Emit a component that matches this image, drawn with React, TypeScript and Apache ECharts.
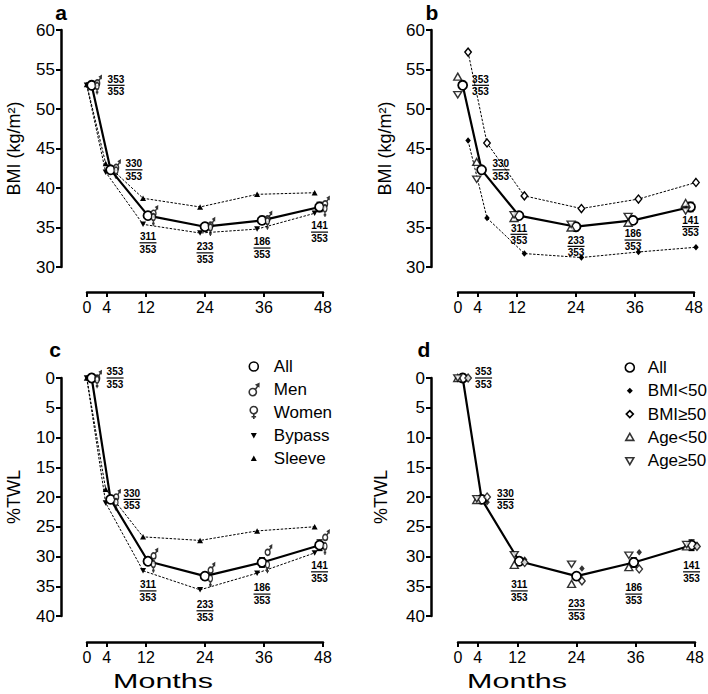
import React, { useEffect, useRef } from 'react';
import * as echarts from 'echarts';

// ---------- data ----------
const months = [0, 4, 12, 24, 36, 48];
// plotted (dodged) month position of the "All" points
const plotX = [0.95, 4.8, 12.4, 24.0, 35.6, 47.3];
const nFollowed = [353, 330, 311, 233, 186, 141];
const nTotal = 353;

// Panel a / b : BMI (kg/m2)
const bmiAll = [53.0, 42.3, 36.5, 35.1, 35.9, 37.6];
const bmiAllSe = [0.3, 0.3, 0.35, 0.4, 0.5, 0.6];
const bmiMen = [53.3, 42.6, 36.8, 35.3, 36.1, 38.0];
const bmiWomen = [52.9, 42.2, 36.3, 35.0, 35.8, 37.4];
const bmiBypass = [53.0, 42.0, 35.4, 34.3, 34.8, 36.8];
const bmiSleeve = [53.1, 43.1, 38.7, 37.6, 39.2, 39.4];
const bmiBmiLow = [46.0, 36.2, 31.7, 31.2, 31.9, 32.5];
const bmiBmiHigh = [57.2, 45.7, 39.0, 37.4, 38.6, 40.7];
const bmiAgeLow = [54.1, 43.3, 36.2, 35.0, 35.6, 38.1];
const bmiAgeHigh = [51.8, 41.1, 36.6, 35.4, 36.4, 37.1];

// Panel c / d : %TWL
const twlAll = [0, 20.4, 30.8, 33.3, 31.0, 28.1];
const twlAllSe = [0.1, 0.3, 0.5, 0.6, 0.8, 0.9];
const twlMen = [0, 20.0, 29.9, 32.3, 29.3, 26.8];
const twlWomen = [0.3, 20.9, 31.3, 33.7, 31.4, 28.3];
const twlBypass = [0, 21.0, 32.4, 35.6, 32.8, 29.4];
const twlSleeve = [0, 18.7, 26.7, 27.3, 25.7, 25.0];
const twlBmiLow = [0, 20.9, 30.5, 32.0, 29.3, 28.1];
const twlBmiHigh = [0, 20.0, 31.0, 34.1, 32.1, 28.3];
const twlAgeLow = [0, 20.5, 31.4, 34.6, 31.8, 28.3];
const twlAgeHigh = [0, 20.3, 29.7, 31.3, 29.8, 28.0];

// ---------- styles ----------
const FONT = "'Liberation Sans', Arial, Helvetica, sans-serif";
const DX_LEFT = -1.0;
const DX_RIGHT = 1.1;

const MALE = 'M8.6,9.6A3.6,3.6,0,1,1,1.4,9.6A3.6,3.6,0,1,1,8.6,9.6Z M7.6,7L10,3.4 M11,1.2L10.9,3.75L8.7,2.33Z';
const FEMALE = 'M9.6,4.6A3.6,3.6,0,1,1,2.4,4.6A3.6,3.6,0,1,1,9.6,4.6Z M6,8.2L6,13.6 M3.7,11.2L8.3,11.2';
const DOWN_TRI = 'path://M0,0L10,0L5,9Z';
const PAD = 'path://M0,0M12,14';

const openStyle = { color: '#fff', borderColor: '#000', borderWidth: 1.4 };
const filledStyle = { color: '#000', borderWidth: 0 };
const dashed = { color: '#000', width: 1, type: [2.5, 1.5] as number[] };

const pts = (ys: number[], dx: number) => ys.map((y, i) => [+(plotX[i] + dx).toFixed(2), y]);

const fracRich = {
  t: { fontFamily: FONT, fontSize: 10, fontWeight: 'bold', lineHeight: 11, color: '#000' },
  l: { width: 17, height: 1.2, backgroundColor: '#000', lineHeight: 1.5 },
  b: { fontFamily: FONT, fontSize: 10, fontWeight: 'bold', lineHeight: 11, color: '#000' },
};

function allSeries(gi: number, ys: number[], rightGap: number[], bottomGap: number[]) {
  return {
    type: 'line', name: 'All', xAxisIndex: gi, yAxisIndex: gi, z: 4, clip: false,
    symbol: 'circle', symbolSize: 9,
    itemStyle: { color: '#fff', borderColor: '#000', borderWidth: 1.8 },
    lineStyle: { color: '#000', width: 2.2 },
    data: pts(ys, 0).map((p, i) => ({
      value: p,
      label: i < 2
        ? { show: true, position: 'right', distance: rightGap[i] }
        : { show: true, position: 'bottom', distance: bottomGap[i] },
    })),
    label: {
      show: true,
      formatter: (p: any) => `{t|${nFollowed[p.dataIndex]}}\n{l|}\n{b|${nTotal}}`,
      rich: fracRich,
    },
  };
}

function errSeries(gi: number, ys: number[], se: number[]) {
  return {
    type: 'custom', xAxisIndex: gi, yAxisIndex: gi, z: 3, silent: true, clip: false,
    encode: { x: 0, y: [1, 2] },
    data: ys.map((y, i) => [plotX[i], y - se[i], y + se[i]]),
    renderItem: (_params: any, api: any) => {
      const lo = api.coord([api.value(0), api.value(1)]);
      const hi = api.coord([api.value(0), api.value(2)]);
      const w = 3;
      const st = { stroke: '#000', lineWidth: 1.2 };
      return {
        type: 'group',
        children: [
          { type: 'line', shape: { x1: lo[0], y1: lo[1], x2: hi[0], y2: hi[1] }, style: st },
          { type: 'line', shape: { x1: lo[0] - w, y1: lo[1], x2: lo[0] + w, y2: lo[1] }, style: st },
          { type: 'line', shape: { x1: hi[0] - w, y1: hi[1], x2: hi[0] + w, y2: hi[1] }, style: st },
        ],
      };
    },
  };
}

function dashedLine(name: string, gi: number, ys: number[], dx: number, symbol: string, size: any, style: any) {
  return {
    type: 'line', name, xAxisIndex: gi, yAxisIndex: gi, z: 2, clip: false,
    symbol, symbolSize: size, itemStyle: style, lineStyle: dashed,
    data: pts(ys, dx),
  };
}

function markers(name: string, gi: number, ys: number[], dx: number, symbol: string, size: any, style: any, offset: number[] = [0, 0]) {
  return {
    type: 'scatter', name, xAxisIndex: gi, yAxisIndex: gi, z: 5, clip: false,
    symbol, symbolSize: size, symbolKeepAspect: true, symbolOffset: offset, itemStyle: style,
    data: pts(ys, dx),
  };
}

function sexPanel(gi: number, all: number[], se: number[], men: number[], women: number[], bypass: number[], sleeve: number[], rg: number[], bg: number[]) {
  return [
    dashedLine('Sleeve', gi, sleeve, DX_LEFT, 'triangle', [6, 5.5], filledStyle),
    dashedLine('Bypass', gi, bypass, DX_LEFT, DOWN_TRI, [6, 5.5], filledStyle),
    errSeries(gi, all, se),
    allSeries(gi, all, rg, bg),
    markers('Men', gi, men, DX_RIGHT, 'path://' + MALE, [8, 10], { ...openStyle, borderWidth: 1.5 }, [1, -2]),
    markers('Women', gi, women, DX_RIGHT, 'path://' + FEMALE, [7, 12], { ...openStyle, borderWidth: 1.5 }, [0, 2.5]),
  ];
}

function bmiAgePanel(gi: number, all: number[], se: number[], bLow: number[], bHigh: number[], aLow: number[], aHigh: number[], withLines: boolean, rg: number[], bg: number[]) {
  const s: any[] = [];
  if (withLines) {
    s.push(dashedLine('BMI<50', gi, bLow, DX_RIGHT, 'diamond', [5.5, 6.5], filledStyle));
    s.push(dashedLine('BMI≥50', gi, bHigh, DX_RIGHT, 'diamond', [6.5, 8], openStyle));
  } else {
    s.push(markers('BMI<50', gi, bLow, DX_RIGHT, 'diamond', [5.5, 6.5], filledStyle));
    s.push(markers('BMI≥50', gi, bHigh, DX_RIGHT, 'diamond', [6.5, 8], openStyle));
  }
  s.push(markers('Age<50', gi, aLow, DX_LEFT, 'triangle', [8, 7], openStyle));
  s.push(markers('Age≥50', gi, aHigh, DX_LEFT, DOWN_TRI, [8, 7], openStyle));
  s.push(errSeries(gi, all, se));
  s.push(allSeries(gi, all, rg, bg));
  return s;
}

function buildOption() {
  const grids = [
    { left: 87, top: 30, width: 236, height: 237 },
    { left: 458, top: 30, width: 236, height: 237 },
    { left: 87, top: 378, width: 236, height: 238 },
    { left: 458, top: 378, width: 237, height: 238 },
  ];
  const xAxis = grids.map((_g, i) => ({
    type: 'value', gridIndex: i, min: 0, max: 48, offset: i < 2 ? 25 : 26,
    axisLine: { show: true, onZero: false, lineStyle: { color: '#000', width: 2.5 } },
    axisTick: { show: true, customValues: months, length: 5, lineStyle: { color: '#000', width: 2 } },
    axisLabel: { customValues: months, color: '#000', fontFamily: FONT, fontSize: 16, margin: 7 },
    splitLine: { show: false },
  }));
  const yAxis = grids.map((_g, i) => ({
    type: 'value', gridIndex: i, min: i < 2 ? 30 : 0, max: i < 2 ? 60 : 40, interval: 5, inverse: i >= 2,
    offset: [26, 27, 26, 27][i],
    name: i < 2 ? 'BMI (kg/m²)' : '%TWL', nameLocation: 'middle', nameGap: [38, 37, 38, 41][i],
    nameTextStyle: { fontFamily: FONT, fontSize: 18, color: '#000' },
    axisLine: { show: true, onZero: false, lineStyle: { color: '#000', width: 2.5 } },
    axisTick: { show: true, length: 5, lineStyle: { color: '#000', width: 2 } },
    axisLabel: { color: '#000', fontFamily: FONT, fontSize: 17, margin: 6 },
    splitLine: { show: false },
  }));

  const series = [
    ...sexPanel(0, bmiAll, bmiAllSe, bmiMen, bmiWomen, bmiBypass, bmiSleeve, [10.5, 9.5], [0, 0, 10, 9, 10.5, 8]),
    ...bmiAgePanel(1, bmiAll, bmiAllSe, bmiBmiLow, bmiBmiHigh, bmiAgeLow, bmiAgeHigh, true, [4, 5.5], [0, 0, 1.5, 2.5, 2.5, 2.5]),
    ...sexPanel(2, twlAll, twlAllSe, twlMen, twlWomen, twlBypass, twlSleeve, [9.5, 7.5], [0, 0, 12.5, 17.5, 14.5, 9.5]),
    ...bmiAgePanel(3, twlAll, twlAllSe, twlBmiLow, twlBmiHigh, twlAgeLow, twlAgeHigh, false, [7, 10], [0, 0, 12.5, 16.5, 14.5, 9.5]),
  ];

  const legendText = { fontFamily: FONT, fontSize: 17, color: '#000' };
  const openLeg = { color: '#fff', borderColor: '#000', borderWidth: 1.6 };
  const fillLeg = { color: '#000', borderColor: '#000', borderWidth: 0 };
  const circleIcon = PAD + 'M10.5,7A4.5,4.5,0,1,1,1.5,7A4.5,4.5,0,1,1,10.5,7Z';

  const legend = [
    {
      orient: 'vertical', left: 247, top: 358, padding: 0, itemWidth: 30, itemHeight: 14, itemGap: 6,
      selectedMode: false, textStyle: legendText,
      data: [
        { name: 'All', icon: circleIcon, itemStyle: openLeg },
        { name: 'Men', icon: PAD + MALE, itemStyle: openLeg },
        { name: 'Women', icon: PAD + FEMALE, itemStyle: openLeg },
        { name: 'Bypass', icon: PAD + 'M3,4.5L9,4.5L6,10Z', itemStyle: fillLeg },
        { name: 'Sleeve', icon: PAD + 'M6,4L9,9.5L3,9.5Z', itemStyle: fillLeg },
      ],
    },
    {
      orient: 'vertical', left: 623, top: 359, padding: 0, itemWidth: 26, itemHeight: 14, itemGap: 6.3,
      selectedMode: false, textStyle: legendText,
      data: [
        { name: 'All', icon: circleIcon, itemStyle: openLeg },
        { name: 'BMI<50', icon: PAD + 'M6,4L9,7L6,10L3,7Z', itemStyle: fillLeg },
        { name: 'BMI≥50', icon: PAD + 'M6,3.5L9.5,7L6,10.5L2.5,7Z', itemStyle: openLeg },
        { name: 'Age<50', icon: PAD + 'M6,3L10,10L2,10Z', itemStyle: openLeg },
        { name: 'Age≥50', icon: PAD + 'M2,4L10,4L6,11Z', itemStyle: openLeg },
      ],
    },
  ];

  const letter = (t: string, x: number, y: number) => ({
    type: 'text', x, y,
    style: { text: t, font: `bold 21px ${FONT}`, fill: '#000', textAlign: 'center', textVerticalAlign: 'middle' },
  });
  const monthsTitle = (x: number) => ({
    type: 'text', x, y: 681, scaleX: 1.45,
    style: { text: 'Months', font: `21px ${FONT}`, fill: '#000', textAlign: 'center', textVerticalAlign: 'middle' },
  });

  return {
    animation: false,
    backgroundColor: '#fff',
    grid: grids,
    xAxis,
    yAxis,
    legend,
    series,
    graphic: [
      letter('a', 61, 12),
      letter('b', 432, 12),
      letter('c', 55, 349),
      letter('d', 424, 349),
      monthsTitle(163),
      monthsTitle(517),
    ],
  };
}

export default function App() {
  const ref = useRef<HTMLDivElement>(null);
  useEffect(() => {
    if (!ref.current) return;
    const chart = echarts.init(ref.current, null, { renderer: 'svg' });
    chart.setOption(buildOption() as any);
    return () => chart.dispose();
  }, []);
  return (
    <div
      ref={ref}
      style={{ position: 'fixed', left: 0, top: 0, width: 708, height: 694, background: '#fff' }}
    />
  );
}
